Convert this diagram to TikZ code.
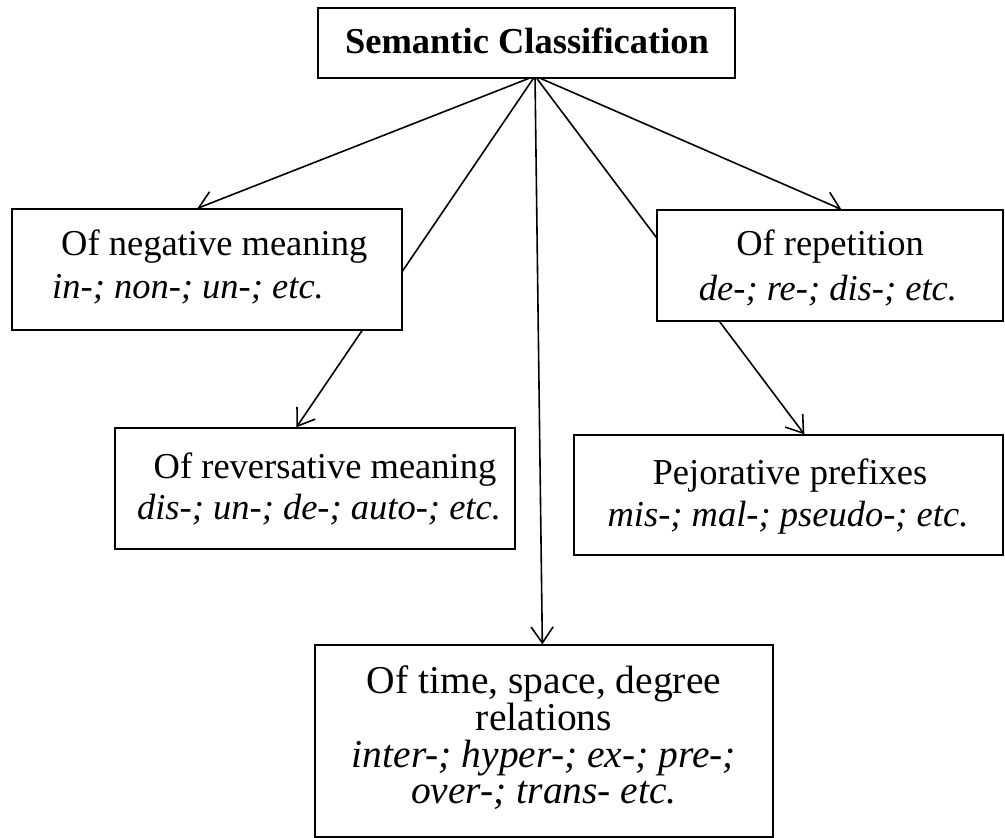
\documentclass[tikz,border=0pt]{standalone}
\usepackage{fontspec}
\setmainfont{Liberation Serif}
\usetikzlibrary{arrows.meta,calc}
\pgfdeclarelayer{bg}
\pgfsetlayers{bg,main}
\begin{document}
\begin{tikzpicture}[x=1pt,y=-1pt,
  box/.style={draw,line width=1.3pt,fill=white,rectangle,inner sep=0pt},
  lbl/.style={inner sep=0pt,font=\fontsize{36.5}{40}\selectfont},
  ilbl/.style={inner sep=0pt,font=\fontsize{36.5}{40}\selectfont\itshape},
  blbl/.style={inner sep=0pt,font=\fontsize{36.5}{40}\selectfont\bfseries},
  big/.style={font=\fontsize{39.5}{42}\selectfont},
  ibig/.style={font=\fontsize{39.5}{42}\selectfont\itshape},
  link/.style={line width=1.6pt,-{Straight Barb[length=16pt,width=22pt,line width=1.6pt]}}]
\useasboundingbox (0,0) rectangle (1005,838);

% frames
\node[box,minimum width=417pt,minimum height=70pt]  (root) at (526.5,43) {};
\node[box,minimum width=390pt,minimum height=121pt] (neg)  at (207,269.5) {};
\node[box,minimum width=400pt,minimum height=121pt] (rev)  at (315,488.5) {};
\node[box,minimum width=346pt,minimum height=111pt] (rep)  at (830,265.5) {};
\node[box,minimum width=429pt,minimum height=120pt] (pej)  at (788.5,495) {};
\node[box,minimum width=458pt,minimum height=192pt] (time) at (544,741) {};

% texts
\node[blbl,anchor=base] (rootA) at (527,53) {Semantic Classification};

\node[lbl,anchor=base west]  (negA) at (61,255) {Of negative meaning};
\node[ilbl,anchor=base west] (negB) at (52,298) {in-; non-; un-; etc.};

\node[lbl,anchor=base]  (revA) at (325,478) {Of reversative meaning};
\node[ilbl,anchor=base] (revB) at (319,519) {dis-; un-; de-; auto-; etc.};

\node[lbl,anchor=base]  (repA) at (830,255) {Of repetition};
\node[ilbl,anchor=base] (repB) at (828,300) {de-; re-; dis-; etc.};

\node[lbl,anchor=base]  (pejA) at (790,484) {Pejorative prefixes};
\node[ilbl,anchor=base] (pejB) at (788,526) {mis-; mal-; pseudo-; etc.};

\node[lbl,big,anchor=base]  (timeA) at (544,693) {Of time, space, degree};
\node[lbl,big,anchor=base]  (timeB) at (544,730) {relations};
\node[ilbl,ibig,anchor=base] (timeC) at (544,767) {inter-; hyper-; ex-; pre-;};
\node[ilbl,ibig,anchor=base] (timeD) at (544,803) {over-; trans- etc.};

% connectors, drawn beneath the frames
\begin{pgfonlayer}{bg}
\coordinate (hub) at (535,76);
\draw[link] (hub) -- ([xshift=186pt]neg.north west);
\draw[link] (hub) -- ([xshift=182pt]rev.north west);
\draw[link] (hub) -- ([xshift=228pt]time.north west);
\draw[link] (hub) -- ([xshift=185pt]rep.north west);
\draw[link] (hub) -- ([xshift=231pt]pej.north west);
\end{pgfonlayer}
\end{tikzpicture}
\end{document}
